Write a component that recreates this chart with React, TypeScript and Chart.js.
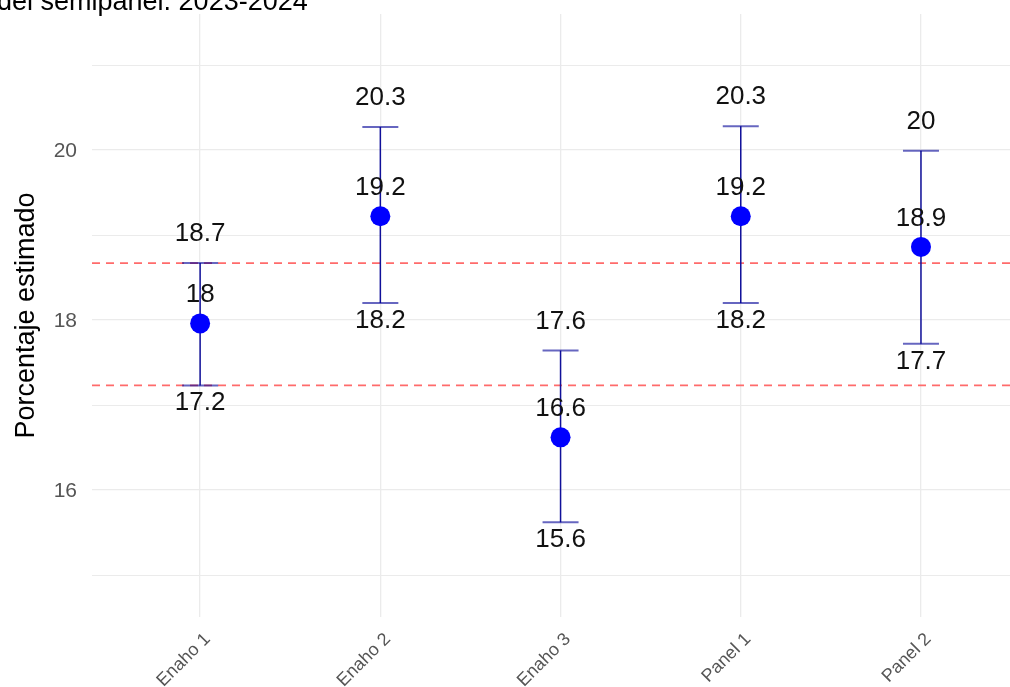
import React, { useEffect, useRef } from "react";
import { Chart, registerables } from "chart.js";

Chart.register(...registerables);

const categories = ["Enaho 1", "Enaho 2", "Enaho 3", "Panel 1", "Panel 2"];
const means = [17.96, 19.22, 16.62, 19.22, 18.86];
const lowers = [17.23, 18.2, 15.62, 18.2, 17.72];
const uppers = [18.67, 20.27, 17.64, 20.28, 19.99];
const refLines = [18.67, 17.23];
const yTicks = [15, 16, 17, 18, 19, 20, 21];
const yLabelTicks = [16, 18, 20];
const titleText = "del semipanel. 2023-2024";
const yTitle = "Porcentaje estimado";

const FONT = '"Liberation Sans", Arial, sans-serif';

const fmt = (v: number) => String(Number(v.toFixed(1)));

const overlayPlugin = {
  id: "overlay",
  beforeDatasetsDraw(chart: any) {
    const { ctx, chartArea, scales } = chart;
    const x = scales.x;
    const y = scales.y;
    ctx.save();
    ctx.strokeStyle = "#ff6b6b";
    ctx.lineWidth = 1.8;
    ctx.setLineDash([8, 6]);
    refLines.forEach((v) => {
      const py = y.getPixelForValue(v);
      ctx.beginPath();
      ctx.moveTo(chartArea.left, py);
      ctx.lineTo(chartArea.right, py);
      ctx.stroke();
    });
    ctx.setLineDash([]);
    categories.forEach((_, i) => {
      const px = x.getPixelForValue(i + 1);
      const pTop = y.getPixelForValue(uppers[i]);
      const pBot = y.getPixelForValue(lowers[i]);
      ctx.strokeStyle = "#10109a";
      ctx.lineWidth = 1.5;
      ctx.beginPath();
      ctx.moveTo(px, pTop);
      ctx.lineTo(px, pBot);
      ctx.stroke();
      ctx.strokeStyle = "rgba(0,0,150,0.6)";
      ctx.lineWidth = 2;
      [pTop, pBot].forEach((py) => {
        ctx.beginPath();
        ctx.moveTo(px - 18, py);
        ctx.lineTo(px + 18, py);
        ctx.stroke();
      });
    });
    ctx.restore();
  },
  afterDatasetsDraw(chart: any) {
    const { ctx, scales } = chart;
    const x = scales.x;
    const y = scales.y;
    ctx.save();
    ctx.fillStyle = "#111111";
    ctx.font = `26px ${FONT}`;
    ctx.textAlign = "center";
    ctx.textBaseline = "alphabetic";
    categories.forEach((_, i) => {
      const px = x.getPixelForValue(i + 1);
      ctx.fillText(fmt(uppers[i]), px, y.getPixelForValue(uppers[i]) - 22);
      ctx.fillText(fmt(means[i]), px, y.getPixelForValue(means[i]) - 21);
      ctx.fillText(fmt(lowers[i]), px, y.getPixelForValue(lowers[i]) + 25);
    });
    ctx.restore();
  },
  afterDraw(chart: any) {
    const { ctx, chartArea, scales } = chart;
    const x = scales.x;
    const y = scales.y;
    ctx.save();
    ctx.fillStyle = "#555555";
    ctx.font = `21px ${FONT}`;
    ctx.textAlign = "right";
    ctx.textBaseline = "middle";
    yLabelTicks.forEach((v) => {
      ctx.fillText(String(v), chartArea.left - 15, y.getPixelForValue(v) + 1);
    });
    ctx.font = `18px ${FONT}`;
    ctx.textBaseline = "top";
    categories.forEach((c, i) => {
      const px = x.getPixelForValue(i + 1);
      ctx.save();
      ctx.translate(px + 1, chartArea.bottom + 13);
      ctx.rotate(-Math.PI / 4);
      ctx.textAlign = "right";
      ctx.fillText(c, 0, 0);
      ctx.restore();
    });
    ctx.fillStyle = "#000000";
    ctx.font = `27px ${FONT}`;
    ctx.save();
    ctx.translate(34, (chartArea.top + chartArea.bottom) / 2);
    ctx.rotate(-Math.PI / 2);
    ctx.textAlign = "center";
    ctx.textBaseline = "alphabetic";
    ctx.fillText(yTitle, 0, 0);
    ctx.restore();
    ctx.textAlign = "left";
    ctx.textBaseline = "alphabetic";
    ctx.fillText(titleText, -3, 10);
    ctx.restore();
  },
};

export default function App() {
  const canvasRef = useRef<HTMLCanvasElement | null>(null);
  useEffect(() => {
    document.body.style.margin = "0";
    const canvas = canvasRef.current;
    if (!canvas) return;
    const chart = new Chart(canvas, {
      type: "scatter",
      data: {
        datasets: [
          {
            data: means.map((m, i) => ({ x: i + 1, y: m })),
            backgroundColor: "#0000ff",
            borderWidth: 0,
            pointRadius: 10,
            pointHoverRadius: 10,
          },
        ],
      },
      options: {
        animation: false,
        responsive: false,
        maintainAspectRatio: false,
        events: [],
        layout: { autoPadding: false, padding: { top: 14, right: 0, left: 0, bottom: 0 } },
        plugins: {
          legend: { display: false },
          tooltip: { enabled: false },
        },
        scales: {
          x: {
            type: "linear",
            min: 0.4,
            max: 5.494,
            border: { display: false },
            grid: { color: "#ebebeb", lineWidth: 1.3, drawTicks: false },
            ticks: { display: false },
            afterBuildTicks: (scale: any) => {
              scale.ticks = categories.map((_, i) => ({ value: i + 1 }));
            },
            afterFit: (scale: any) => {
              scale.height = 70;
            },
          },
          y: {
            type: "linear",
            min: 14.506,
            max: 21.6,
            border: { display: false },
            grid: {
              color: "#ebebeb",
              lineWidth: (c: any) => (c.tick && c.tick.value % 2 === 0 ? 1.3 : 1),
              drawTicks: false,
            },
            ticks: { display: false },
            afterBuildTicks: (scale: any) => {
              scale.ticks = yTicks.map((v) => ({ value: v }));
            },
            afterFit: (scale: any) => {
              scale.width = 92;
            },
          },
        },
      },
      plugins: [overlayPlugin],
    });
    return () => chart.destroy();
  }, []);
  return (
    <div style={{ position: "absolute", left: 0, top: 0, width: 1010, height: 687, background: "#fff" }}>
      <canvas ref={canvasRef} width={1010} height={687} style={{ display: "block" }} />
    </div>
  );
}
